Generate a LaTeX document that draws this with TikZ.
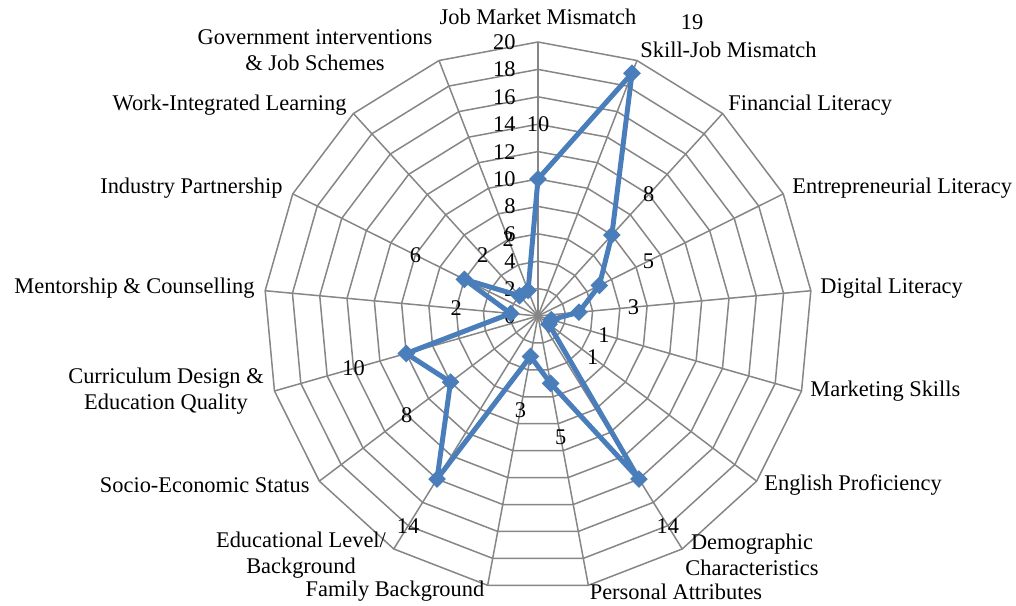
\documentclass[tikz,border=0pt]{standalone}
\usepackage{fontspec}
\setmainfont{Liberation Serif}
\usetikzlibrary{shapes.geometric}
\definecolor{gridgray}{RGB}{134,134,134}
\definecolor{seriesblue}{RGB}{74,126,187}

\begin{document}
\begin{tikzpicture}[
    gridline/.style={draw=gridgray, line width=0.75pt},
    series/.style={draw=seriesblue, line width=2.5pt, line join=round},
    marker/.style={diamond, fill=seriesblue, inner sep=0pt, minimum size=9pt},
    category/.style={font=\fontsize{11.2}{12.8}\selectfont, inner sep=0pt, align=center},
    ticklabel/.style={font=\fontsize{11.2}{12.8}\selectfont, inner sep=0pt, anchor=east},
    datalabel/.style={font=\fontsize{11.2}{12.8}\selectfont, inner sep=0pt}]
  \useasboundingbox (-269pt,-144.5pt) rectangle (239pt,158pt);

  % spokes and rings
  \foreach \i in {0,...,16}
    \draw[gridline] (0,0) -- (90-\i*360/17:137pt);
  \foreach \k in {1,...,10}
    \draw[gridline] (90:\k*13.7pt) \foreach \i in {1,...,16} { -- (90-\i*360/17:\k*13.7pt) } -- cycle;

  % scale on the first axis
  \foreach \v [count=\k from 0] in {0,2,...,20}
    \node[ticklabel] (t\k) at (-11pt,\k*13.7pt) {\v};

  % data
  \foreach \v [count=\i from 0] in {10,19,8,5,3,1,1,14,5,3,14,8,10,2,6,2,2}
    \coordinate (p\i) at (90-\i*360/17:\v*6.85pt);
  \draw[series] (p0) \foreach \i in {1,...,16} { -- (p\i) } -- cycle;
  \foreach \i in {0,...,16}
    \node[marker] (m\i) at (p\i) {};

  % data labels
  \foreach \i/\v in {0/10,2/8,3/5,4/3,5/1,6/1,7/14,8/5,9/3,10/14,11/8,12/10,13/2,14/6,15/2,16/2}
    \node[datalabel] (d\i) at (90-\i*360/17:{(\v+4)*6.85pt}) {\v};
  \node[datalabel] (d1) at (77pt,147pt) {19};

  % categories
  \node[category] (c0) at (0pt,149.5pt) {Job Market Mismatch};
  \node[category, anchor=west] (c1) at (51pt,133pt) {Skill-Job Mismatch};
  \node[category, anchor=west] (c2) at (95pt,105.5pt) {Financial Literacy};
  \node[category, anchor=west] (c3) at (127pt,64pt) {Entrepreneurial Literacy};
  \node[category, anchor=west] (c4) at (141pt,14pt) {Digital Literacy};
  \node[category, anchor=west] (c5) at (136pt,-37.5pt) {Marketing Skills};
  \node[category, anchor=west] (c6) at (113pt,-84.5pt) {English Proficiency};
  \node[category] (c7) at (107pt,-119.5pt) {Demographic\\Characteristics};
  \node[category] (c8) at (69pt,-138pt) {Personal Attributes};
  \node[category] (c9) at (-71.5pt,-137.5pt) {Family Background};
  \node[category] (c10) at (-118.5pt,-119.5pt) {Educational Level/\\Background};
  \node[category, anchor=east] (c11) at (-114pt,-84.5pt) {Socio-Economic Status};
  \node[category] (c12) at (-186pt,-37.5pt) {Curriculum Design \&\\Education Quality};
  \node[category, anchor=east] (c13) at (-141.5pt,14pt) {Mentorship \& Counselling};
  \node[category, anchor=east] (c14) at (-127.5pt,64pt) {Industry Partnership};
  \node[category, anchor=east] (c15) at (-95.5pt,105.5pt) {Work-Integrated Learning};
  \node[category] (c16) at (-111.5pt,133pt) {Government interventions\\\& Job Schemes};
\end{tikzpicture}
\end{document}
